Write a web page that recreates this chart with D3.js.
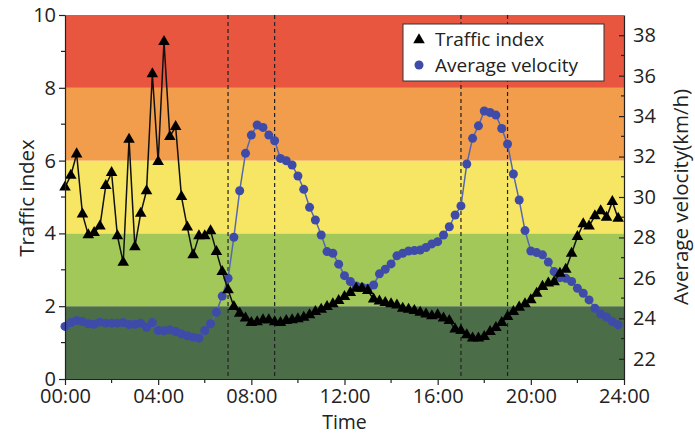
<!DOCTYPE html>
<html>
<head>
<meta charset="utf-8">
<script src="https://cdn.jsdelivr.net/npm/d3@7"></script>
<style>
  body { margin: 0; background: #fff; }
  text { font-family: "Open Sans", sans-serif; fill: #222; }
</style>
</head>
<body>
<script>
// traffic index, every 15 minutes from 00:00 to 23:45
var trafficIndex = [
  5.27, 5.59, 6.18, 4.53, 3.96, 4.02, 4.2, 5.31, 5.67, 3.93, 3.2, 6.58, 3.63, 4.55, 5.17,
  8.38, 5.97, 9.27, 6.66, 6.93, 5.01, 4.17, 3.41, 3.93, 3.93, 4.07, 3.5, 2.95, 2.45, 1.99,
  1.80, 1.67, 1.55, 1.57, 1.62, 1.62, 1.57, 1.55, 1.6, 1.62, 1.65, 1.69, 1.76, 1.85,
  1.91, 1.99, 2.06, 2.15, 2.26, 2.37, 2.49, 2.49, 2.43, 2.19, 2.14, 2.1, 2.06, 2.03,
  1.94, 1.91, 1.88, 1.83, 1.78, 1.73, 1.76, 1.67, 1.6, 1.37, 1.33, 1.21, 1.12, 1.12,
  1.16, 1.3, 1.41, 1.55, 1.71, 1.85, 1.97, 2.06, 2.17, 2.35, 2.54, 2.63, 2.67, 2.9,
  3.01, 3.45, 3.91, 4.26, 4.2, 4.48, 4.62, 4.44, 4.87, 4.41
];

// average velocity (km/h), same time steps
var avgVelocity = [
  23.6, 23.79, 23.89, 23.84, 23.73, 23.71, 23.81, 23.76, 23.76, 23.76, 23.79, 23.69, 23.71,
  23.76, 23.56, 23.79, 23.4, 23.38, 23.43, 23.35, 23.23, 23.14, 23.07, 23.02, 23.4, 23.73,
  24.3, 25.1, 25.98,
  28.01, 30.31, 32.16, 33.06, 33.56, 33.44, 33.06, 32.78, 31.91, 31.79, 31.58, 31.04,
  30.38, 29.49, 28.86, 28.12, 27.3, 27.22, 26.68, 26.11, 25.82, 25.6, 25.54, 25.49,
  25.65, 26.2, 26.43, 26.69, 27.09,
  27.22, 27.33, 27.35, 27.38, 27.5, 27.68, 27.79, 28.12, 28.53, 29.11, 29.56, 31.63,
  32.9, 33.52, 34.25, 34.18, 34.05, 33.39, 32.62, 31.14, 29.85, 28.34, 27.33, 27.25,
  27.14, 26.78, 26.31, 26.01, 25.98, 25.82, 25.49, 25.24, 24.91, 24.5, 24.21, 24.06,
  23.84, 23.68
];

// time of each sample, in hours
var hours = d3.range(trafficIndex.length).map(function(i){ return i / 4; });

// traffic level bands on the left axis
var bandEdges = [0, 2, 4, 6, 8, 10];
var bandColors = ["#4b6e48", "#a2c85a", "#f6e664", "#f29d4b", "#e9563f"];

// peak hour markers
var peakHours = [7, 9, 17, 19];

var xTicks = [0, 4, 8, 12, 16, 20, 24];
var xTickLabels = ["00:00", "04:00", "08:00", "12:00", "16:00", "20:00", "24:00"];
var leftTicks = [0, 2, 4, 6, 8, 10];
var rightTicks = [22, 24, 26, 28, 30, 32, 34, 36, 38];

var legendLabels = ["Traffic index", "Average velocity"];

function drawChart(){
    var width = 695, height = 434;
    var margin = {top: 15, right: 71, bottom: 55, left: 65};
    var w = width - margin.left - margin.right,
        h = height - margin.top - margin.bottom;

    var svg = d3.select("body")
        .append("svg")
        .attr("width", width)
        .attr("height", height);

    var g = svg.append("g")
        .attr("transform", "translate(" + margin.left + "," + margin.top + ")");

    var x = d3.scaleLinear().domain([0, 24]).range([0, w]);
    var yL = d3.scaleLinear().domain([0, 10]).range([h, 0]);
    var yR = d3.scaleLinear().domain([21, 39]).range([h, 0]);

    //coloured bands
    g.selectAll(".band")
        .data(bandColors)
        .enter()
        .append("rect")
        .attr("class", "band")
        .attr("x", 0)
        .attr("width", w)
        .attr("y", function(d, i){ return yL(bandEdges[i + 1]); })
        .attr("height", function(d, i){ return yL(bandEdges[i]) - yL(bandEdges[i + 1]); })
        .attr("fill", function(d){ return d; });

    //dashed peak lines
    g.selectAll(".peak")
        .data(peakHours)
        .enter()
        .append("line")
        .attr("x1", function(d){ return x(d); })
        .attr("x2", function(d){ return x(d); })
        .attr("y1", 0)
        .attr("y2", h)
        .attr("stroke", "#222")
        .attr("stroke-width", 1.2)
        .attr("stroke-dasharray", "4,3");

    //velocity line and dots
    var vLine = d3.line()
        .x(function(d, i){ return x(hours[i]); })
        .y(function(d){ return yR(d); });

    g.append("path")
        .datum(avgVelocity)
        .attr("d", vLine)
        .attr("fill", "none")
        .attr("stroke", "#5468b0")
        .attr("stroke-width", 1.5);

    g.selectAll(".vdot")
        .data(avgVelocity)
        .enter()
        .append("circle")
        .attr("class", "vdot")
        .attr("cx", function(d, i){ return x(hours[i]); })
        .attr("cy", function(d){ return yR(d); })
        .attr("r", 4.5)
        .attr("fill", "#3f4ba8");

    //traffic index line and triangles
    var tLine = d3.line()
        .x(function(d, i){ return x(hours[i]); })
        .y(function(d){ return yL(d); });

    g.append("path")
        .datum(trafficIndex)
        .attr("d", tLine)
        .attr("fill", "none")
        .attr("stroke", "#111")
        .attr("stroke-width", 1.5);

    var tri = d3.symbol().type(d3.symbolTriangle).size(58);
    g.selectAll(".tri")
        .data(trafficIndex)
        .enter()
        .append("path")
        .attr("class", "tri")
        .attr("d", tri)
        .attr("transform", function(d, i){
            return "translate(" + x(hours[i]) + "," + yL(d) + ")";
        })
        .attr("fill", "#000");

    //axes
    var xAxis = g.append("g")
        .attr("transform", "translate(0," + h + ")")
        .call(d3.axisBottom(x).tickValues(xTicks)
            .tickFormat(function(d, i){ return xTickLabels[i]; })
            .tickSize(6).tickPadding(4).tickSizeOuter(0));
    xAxis.append("g").selectAll("line")
        .data([2, 6, 10, 14, 18, 22])
        .enter().append("line")
        .attr("x1", function(d){ return x(d); })
        .attr("x2", function(d){ return x(d); })
        .attr("y2", 4)
        .attr("stroke", "#222");

    var leftAxis = g.append("g")
        .call(d3.axisLeft(yL).tickValues(leftTicks).tickSize(6).tickSizeOuter(0));
    leftAxis.append("g").selectAll("line")
        .data([1, 3, 5, 7, 9])
        .enter().append("line")
        .attr("y1", function(d){ return yL(d); })
        .attr("y2", function(d){ return yL(d); })
        .attr("x2", -4)
        .attr("stroke", "#222");

    var rightAxis = g.append("g")
        .attr("transform", "translate(" + w + ",0)")
        .call(d3.axisRight(yR).tickValues(rightTicks).tickSize(-5).tickPadding(9).tickSizeOuter(0));
    rightAxis.append("g").selectAll("line")
        .data([23, 25, 27, 29, 31, 33, 35, 37])
        .enter().append("line")
        .attr("y1", function(d){ return yR(d); })
        .attr("y2", function(d){ return yR(d); })
        .attr("x2", -3)
        .attr("stroke", "#222");

    [xAxis, leftAxis, rightAxis].forEach(function(a){
        a.selectAll("text").style("font-size", "20px").attr("fill", "#222");
        a.selectAll("path, line").attr("stroke", "#222").attr("stroke-width", 1.2);
    });

    //axis titles
    svg.append("text")
        .attr("x", margin.left + w / 2)
        .attr("y", 429)
        .attr("text-anchor", "middle")
        .style("font-size", "19.5px")
        .text("Time");

    svg.append("text")
        .attr("transform", "translate(34," + (margin.top + h / 2 + 1) + ") rotate(-90)")
        .attr("text-anchor", "middle")
        .style("font-size", "20.5px")
        .text("Traffic index");

    svg.append("text")
        .attr("transform", "translate(688," + (margin.top + h / 2) + ") rotate(-90)")
        .attr("text-anchor", "middle")
        .style("font-size", "20.5px")
        .text("Average velocity(km/h)");

    //legend
    var legend = svg.append("g").attr("transform", "translate(403,24)");
    legend.append("rect")
        .attr("width", 201)
        .attr("height", 57)
        .attr("fill", "#fff")
        .attr("stroke", "#333")
        .attr("stroke-width", 1);

    legend.append("path")
        .attr("d", d3.symbol().type(d3.symbolTriangle).size(58))
        .attr("transform", "translate(16,16)")
        .attr("fill", "#000");
    legend.append("circle")
        .attr("cx", 16).attr("cy", 41).attr("r", 4.5)
        .attr("fill", "#3f4ba8");

    legend.selectAll(".ltext")
        .data(legendLabels)
        .enter()
        .append("text")
        .attr("x", 32)
        .attr("y", function(d, i){ return 22 + i * 26; })
        .style("font-size", "19px")
        .text(function(d){ return d; });
}

window.onload = drawChart;
</script>
</body>
</html>
